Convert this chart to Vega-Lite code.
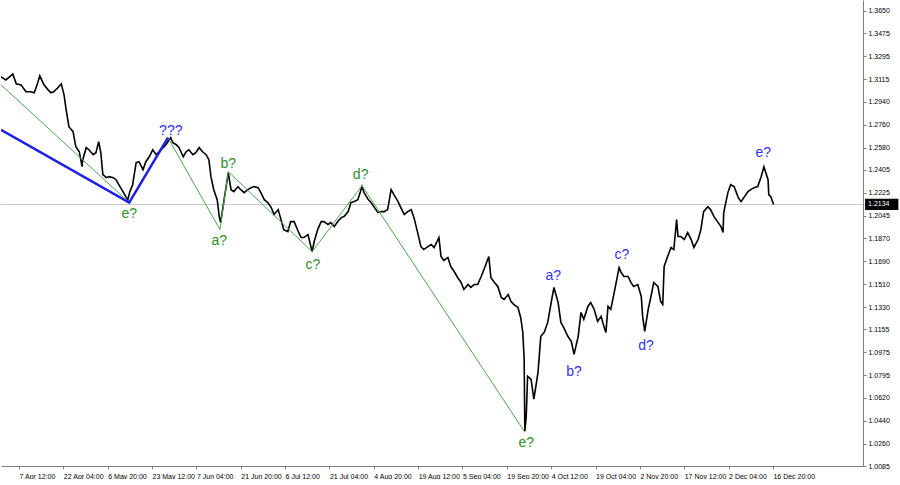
{
  "$schema": "https://vega.github.io/schema/vega-lite/v6.json",
  "width": 862,
  "height": 466,
  "padding": 0,
  "background": "#ffffff",
  "view": {"stroke": null},
  "config": {"font": "Liberation Sans"},
  "datasets": {
    "price": [
      {"i":38,"p":1.3134},{"i":45,"p":1.3110},{"i":52,"p":1.3142},{"i":55,"p":1.3157},{"i":60,"p":1.3079},{"i":67,"p":1.3071},{"i":74,"p":1.3017},{"i":81,"p":1.3017},{"i":86,"p":1.3009},{"i":91,"p":1.3087},{"i":94,"p":1.3142},{"i":100,"p":1.3071},{"i":106,"p":1.3032},{"i":110,"p":1.3009},{"i":114,"p":1.3017},{"i":120,"p":1.3048},{"i":125,"p":1.3079},{"i":129,"p":1.2993},{"i":132,"p":1.2876},{"i":136,"p":1.2743},{"i":142,"p":1.2704},{"i":146,"p":1.2586},{"i":151,"p":1.2547},{"i":155,"p":1.2430},{"i":156,"p":1.2485},{"i":161,"p":1.2579},{"i":165,"p":1.2563},{"i":171,"p":1.2524},{"i":175,"p":1.2540},{"i":179,"p":1.2626},{"i":182,"p":1.2540},{"i":185,"p":1.2368},{"i":190,"p":1.2344},{"i":194,"p":1.2352},{"i":200,"p":1.2344},{"i":204,"p":1.2328},{"i":208,"p":1.2289},{"i":214,"p":1.2235},{"i":218,"p":1.2195},{"i":221,"p":1.2172},{"i":224,"p":1.2235},{"i":228,"p":1.2289},{"i":233,"p":1.2461},{"i":237,"p":1.2469},{"i":243,"p":1.2407},{"i":247,"p":1.2469},{"i":252,"p":1.2508},{"i":257,"p":1.2563},{"i":262,"p":1.2524},{"i":266,"p":1.2547},{"i":272,"p":1.2579},{"i":276,"p":1.2602},{"i":283,"p":1.2657},{"i":286,"p":1.2618},{"i":291,"p":1.2602},{"i":295,"p":1.2579},{"i":301,"p":1.2508},{"i":305,"p":1.2547},{"i":309,"p":1.2563},{"i":315,"p":1.2524},{"i":319,"p":1.2540},{"i":324,"p":1.2579},{"i":329,"p":1.2547},{"i":334,"p":1.2524},{"i":338,"p":1.2485},{"i":341,"p":1.2352},{"i":345,"p":1.2250},{"i":350,"p":1.2172},{"i":353,"p":1.2039},{"i":355,"p":1.1992},{"i":360,"p":1.2172},{"i":366,"p":1.2383},{"i":370,"p":1.2250},{"i":374,"p":1.2235},{"i":380,"p":1.2274},{"i":384,"p":1.2250},{"i":389,"p":1.2227},{"i":394,"p":1.2250},{"i":399,"p":1.2266},{"i":403,"p":1.2274},{"i":409,"p":1.2266},{"i":413,"p":1.2227},{"i":418,"p":1.2172},{"i":423,"p":1.2149},{"i":428,"p":1.2110},{"i":432,"p":1.2055},{"i":438,"p":1.2094},{"i":442,"p":1.2016},{"i":446,"p":1.1937},{"i":452,"p":1.1922},{"i":456,"p":1.2000},{"i":461,"p":1.2000},{"i":467,"p":1.1922},{"i":471,"p":1.1875},{"i":475,"p":1.1875},{"i":481,"p":1.1898},{"i":487,"p":1.1765},{"i":490,"p":1.1844},{"i":495,"p":1.1937},{"i":500,"p":1.2000},{"i":504,"p":1.2000},{"i":510,"p":1.1977},{"i":514,"p":1.1992},{"i":519,"p":1.1961},{"i":524,"p":1.2000},{"i":529,"p":1.2031},{"i":533,"p":1.2039},{"i":539,"p":1.2078},{"i":543,"p":1.2149},{"i":547,"p":1.2156},{"i":553,"p":1.2172},{"i":559,"p":1.2274},{"i":562,"p":1.2227},{"i":568,"p":1.2172},{"i":572,"p":1.2149},{"i":576,"p":1.2117},{"i":582,"p":1.2070},{"i":586,"p":1.2078},{"i":591,"p":1.2078},{"i":596,"p":1.2094},{"i":601,"p":1.2250},{"i":605,"p":1.2211},{"i":611,"p":1.2156},{"i":615,"p":1.2110},{"i":620,"p":1.2055},{"i":625,"p":1.2078},{"i":630,"p":1.2094},{"i":634,"p":1.2031},{"i":640,"p":1.1898},{"i":644,"p":1.1804},{"i":648,"p":1.1781},{"i":654,"p":1.1804},{"i":659,"p":1.1820},{"i":663,"p":1.1797},{"i":670,"p":1.1875},{"i":673,"p":1.1726},{"i":677,"p":1.1695},{"i":683,"p":1.1718},{"i":687,"p":1.1648},{"i":692,"p":1.1609},{"i":697,"p":1.1562},{"i":702,"p":1.1523},{"i":706,"p":1.1468},{"i":712,"p":1.1507},{"i":716,"p":1.1484},{"i":721,"p":1.1507},{"i":726,"p":1.1507},{"i":731,"p":1.1570},{"i":735,"p":1.1625},{"i":742,"p":1.1726},{"i":745,"p":1.1562},{"i":749,"p":1.1531},{"i":755,"p":1.1492},{"i":760,"p":1.1406},{"i":764,"p":1.1390},{"i":770,"p":1.1429},{"i":774,"p":1.1374},{"i":778,"p":1.1351},{"i":784,"p":1.1327},{"i":788,"p":1.1249},{"i":791,"p":1.1132},{"i":793,"p":1.0921},{"i":794,"p":1.0358},{"i":796,"p":1.0475},{"i":798,"p":1.0788},{"i":803,"p":1.0764},{"i":807,"p":1.0608},{"i":813,"p":1.0819},{"i":817,"p":1.1101},{"i":822,"p":1.1132},{"i":827,"p":1.1210},{"i":832,"p":1.1366},{"i":836,"p":1.1484},{"i":842,"p":1.1366},{"i":846,"p":1.1210},{"i":850,"p":1.1171},{"i":856,"p":1.1101},{"i":861,"p":1.1062},{"i":865,"p":1.0960},{"i":871,"p":1.1101},{"i":875,"p":1.1288},{"i":879,"p":1.1234},{"i":885,"p":1.1335},{"i":889,"p":1.1366},{"i":894,"p":1.1312},{"i":899,"p":1.1218},{"i":904,"p":1.1257},{"i":908,"p":1.1179},{"i":911,"p":1.1132},{"i":914,"p":1.1335},{"i":918,"p":1.1312},{"i":923,"p":1.1445},{"i":930,"p":1.1640},{"i":933,"p":1.1601},{"i":937,"p":1.1570},{"i":943,"p":1.1570},{"i":947,"p":1.1523},{"i":951,"p":1.1492},{"i":957,"p":1.1507},{"i":962,"p":1.1413},{"i":964,"p":1.1257},{"i":967,"p":1.1140},{"i":972,"p":1.1312},{"i":976,"p":1.1413},{"i":980,"p":1.1523},{"i":986,"p":1.1492},{"i":990,"p":1.1374},{"i":993,"p":1.1351},{"i":995,"p":1.1648},{"i":1000,"p":1.1726},{"i":1005,"p":1.1797},{"i":1009,"p":1.1781},{"i":1013,"p":1.2016},{"i":1015,"p":1.1883},{"i":1019,"p":1.1883},{"i":1024,"p":1.1859},{"i":1029,"p":1.1914},{"i":1034,"p":1.1859},{"i":1038,"p":1.1797},{"i":1044,"p":1.1859},{"i":1048,"p":1.1937},{"i":1052,"p":1.2078},{"i":1058,"p":1.2117},{"i":1062,"p":1.2094},{"i":1067,"p":1.2039},{"i":1073,"p":1.1992},{"i":1077,"p":1.1961},{"i":1080,"p":1.1914},{"i":1081,"p":1.2070},{"i":1087,"p":1.2227},{"i":1091,"p":1.2289},{"i":1096,"p":1.2274},{"i":1102,"p":1.2188},{"i":1106,"p":1.2156},{"i":1110,"p":1.2188},{"i":1116,"p":1.2235},{"i":1120,"p":1.2250},{"i":1125,"p":1.2266},{"i":1130,"p":1.2274},{"i":1135,"p":1.2352},{"i":1139,"p":1.2430},{"i":1145,"p":1.2328},{"i":1146,"p":1.2211},{"i":1149,"p":1.2195},{"i":1153,"p":1.2133}
    ],
    "greenWave": [
      {"i":38,"p":1.3071},{"i":223,"p":1.2149},{"i":279,"p":1.2657},{"i":354,"p":1.1937},{"i":366,"p":1.2391},{"i":487,"p":1.1765},{"i":559,"p":1.2281},{"i":794,"p":1.0350}
    ],
    "blueWave": [
      {"i":38,"p":1.2719},{"i":223,"p":1.2149},{"i":279,"p":1.2657}
    ],
    "labels": [
      {"i":223,"p":1.2063,"t":"e?","degree":"minor"},
      {"i":283,"p":1.2712,"t":"???","degree":"major"},
      {"i":366,"p":1.2454,"t":"b?","degree":"minor"},
      {"i":353,"p":1.1844,"t":"a?","degree":"minor"},
      {"i":488,"p":1.1656,"t":"c?","degree":"minor"},
      {"i":557,"p":1.2367,"t":"d?","degree":"minor"},
      {"i":796,"p":1.0264,"t":"e?","degree":"minor"},
      {"i":835,"p":1.1570,"t":"a?","degree":"major"},
      {"i":865,"p":1.0819,"t":"b?","degree":"major"},
      {"i":934,"p":1.1742,"t":"c?","degree":"major"},
      {"i":969,"p":1.1022,"t":"d?","degree":"major"},
      {"i":1138,"p":1.2540,"t":"e?","degree":"major"}
    ],
    "last": [
      {"p":1.2134,"i0":1285,"i1":1333,"lo":1.2090,"hi":1.2178,"label":"1.2134"}
    ]
  },
  "encoding": {
    "x": {
      "field": "i", "type": "quantitative",
      "scale": {"domain": [38, 1282], "nice": false, "zero": false},
      "axis": {
        "title": null,
        "values": [64,128,192,256,320,384,448,512,576,640,704,768,832,896,960,1024,1088,1152],
        "labelExpr": "['23 Mar 20:00','7 Apr 12:00','22 Apr 04:00','6 May 20:00','23 May 12:00','7 Jun 04:00','21 Jun 20:00','6 Jul 12:00','21 Jul 04:00','4 Aug 20:00','19 Aug 12:00','5 Sep 04:00','19 Sep 20:00','4 Oct 12:00','19 Oct 04:00','2 Nov 20:00','17 Nov 12:00','2 Dec 04:00','16 Dec 20:00'][round(datum.value/64)]",
        "labelAlign": "left",
        "labelFlush": false,
        "labelOverlap": false,
        "labelFontSize": 7,
        "labelColor": "#000000",
        "labelPadding": 3,
        "tickSize": 3,
        "tickColor": "#808080",
        "domainColor": "#808080",
        "grid": false
      }
    },
    "y": {
      "field": "p", "type": "quantitative",
      "scale": {"domain": [1.0085, 1.3736], "nice": false, "zero": false},
      "axis": {
        "title": null,
        "orient": "right",
        "values": [1.0085,1.0260,1.0440,1.0620,1.0795,1.0975,1.1155,1.1330,1.1510,1.1690,1.1870,1.2045,1.2225,1.2405,1.2580,1.2760,1.2940,1.3115,1.3295,1.3475,1.3650],
        "format": ".4f",
        "labelFlush": false,
        "labelOverlap": false,
        "labelFontSize": 7,
        "labelColor": "#000000",
        "labelPadding": 2,
        "tickSize": 3,
        "tickColor": "#808080",
        "domainColor": "#808080",
        "grid": false
      }
    }
  },
  "layer": [
    {
      "data": {"name": "last"},
      "mark": {"type": "rule", "color": "#c8c8c8", "strokeWidth": 1},
      "encoding": {"x": null}
    },
    {
      "data": {"name": "price"},
      "mark": {"type": "line", "color": "#000000", "strokeWidth": 1.6, "clip": true}
    },
    {
      "data": {"name": "greenWave"},
      "mark": {"type": "line", "color": "#4aa84a", "strokeWidth": 1, "clip": true}
    },
    {
      "data": {"name": "blueWave"},
      "mark": {"type": "line", "color": "#1e1ee6", "strokeWidth": 2.5, "clip": true}
    },
    {
      "data": {"name": "labels"},
      "mark": {"type": "text", "fontSize": 14, "font": "Liberation Sans", "align": "center", "baseline": "middle"},
      "encoding": {
        "text": {"field": "t"},
        "color": {"field": "degree", "type": "nominal", "scale": {"domain": ["minor", "major"], "range": ["#2e8f2e", "#3333f2"]}, "legend": null}
      }
    },
    {
      "data": {"name": "last"},
      "mark": {"type": "rect", "color": "#000000", "clip": false},
      "encoding": {
        "x": {"field": "i0", "type": "quantitative"},
        "x2": {"field": "i1"},
        "y": {"field": "lo", "type": "quantitative"},
        "y2": {"field": "hi"}
      }
    },
    {
      "data": {"name": "last"},
      "mark": {"type": "text", "color": "#ffffff", "fontSize": 7, "align": "left", "baseline": "middle", "dx": 3, "clip": false},
      "encoding": {
        "x": {"field": "i0", "type": "quantitative"},
        "text": {"field": "label"}
      }
    }
  ]
}
